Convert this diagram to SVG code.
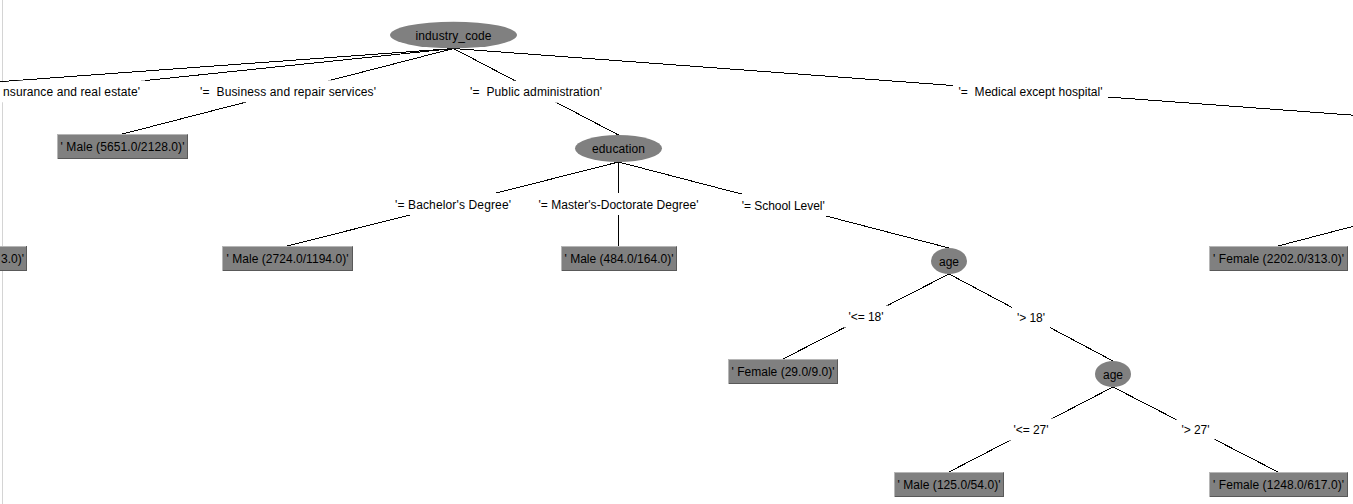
<svg xmlns="http://www.w3.org/2000/svg" width="1353" height="504" viewBox="0 0 1353 504">
<style>
text{font-family:"Liberation Sans",Arial,sans-serif;font-size:12px;fill:#000;text-anchor:middle}
.edge{stroke:#000;stroke-width:1;fill:none;shape-rendering:crispEdges}
.lblbg{fill:#fff;stroke:none}
.inner{fill:#808080}
.leaf{fill:#808080}
.hi{stroke:#b6b6b6;stroke-width:1;fill:none;shape-rendering:crispEdges}
.lo{stroke:#595959;stroke-width:1;fill:none;shape-rendering:crispEdges}
</style>
<rect x="0" y="0" width="1353" height="504" fill="#fff"/>
<line x1="2.5" y1="0" x2="2.5" y2="504" stroke="#d4d4d4"/>
<g id="connectors">
<line class="edge" x1="453.5" y1="48.5" x2="-715" y2="134"/>
<line class="edge" x1="453.5" y1="48.5" x2="-369" y2="134"/>
<line class="edge" x1="453.5" y1="48.5" x2="122.5" y2="134"/>
<line class="edge" x1="453.5" y1="48.5" x2="618.5" y2="135"/>
<line class="edge" x1="453.5" y1="48.5" x2="1607" y2="134"/>
<line class="edge" x1="1607" y1="160" x2="1278" y2="246"/>
<line class="edge" x1="618.5" y1="162" x2="287.5" y2="246"/>
<line class="edge" x1="618.5" y1="162" x2="618.5" y2="246"/>
<line class="edge" x1="618.5" y1="162" x2="949" y2="248"/>
<line class="edge" x1="949" y1="274" x2="783" y2="359"/>
<line class="edge" x1="949" y1="274" x2="1113" y2="361"/>
<line class="edge" x1="1113" y1="387" x2="949" y2="472"/>
<line class="edge" x1="1113" y1="387" x2="1278" y2="472"/>
</g>
<g id="edge-labels">
<g id="lbl-insurance">
<polygon class="lblbg" points="-70,87 0,82.6 25,80.3 145,80.3 145,102.3 -70,102.3"/>
<text x="3" y="95.75" style="text-anchor:start" textLength="137" lengthAdjust="spacing">nsurance and real estate'</text>
</g>
<g id="lbl-business">
<rect class="lblbg" x="195.5" y="80.25" width="185" height="22"/>
<text x="288" y="95.75" xml:space="preserve" textLength="176" lengthAdjust="spacing">'=  Business and repair services'</text>
</g>
<g id="lbl-public">
<rect class="lblbg" x="465" y="80.75" width="142" height="22"/>
<text x="536" y="96.25" xml:space="preserve" textLength="132" lengthAdjust="spacing">'=  Public administration'</text>
</g>
<g id="lbl-medical">
<rect class="lblbg" x="953" y="80.25" width="155" height="22"/>
<text x="1030.5" y="95.75" xml:space="preserve" textLength="144" lengthAdjust="spacing">'=  Medical except hospital'</text>
</g>
<g id="lbl-bachelor">
<rect class="lblbg" x="390.5" y="193" width="125" height="22"/>
<text x="453" y="208.5" textLength="116" lengthAdjust="spacing">'= Bachelor's Degree'</text>
</g>
<g id="lbl-masters">
<rect class="lblbg" x="533.5" y="193" width="170" height="22"/>
<text x="618.5" y="208.5" textLength="160" lengthAdjust="spacing">'= Master's-Doctorate Degree'</text>
</g>
<g id="lbl-school">
<rect class="lblbg" x="736.75" y="194" width="94" height="22"/>
<text x="783.25" y="209.5" textLength="83" lengthAdjust="spacing">'= School Level'</text>
</g>
<g id="lbl-le18">
<rect class="lblbg" x="843.5" y="305.5" width="45" height="22"/>
<text x="866" y="321" textLength="35" lengthAdjust="spacing">'&lt;= 18'</text>
</g>
<g id="lbl-gt18">
<rect class="lblbg" x="1012" y="306.5" width="38" height="22"/>
<text x="1031" y="322" textLength="28" lengthAdjust="spacing">'&gt; 18'</text>
</g>
<g id="lbl-le27">
<rect class="lblbg" x="1008.5" y="418.5" width="45" height="22"/>
<text x="1031" y="434" textLength="35" lengthAdjust="spacing">'&lt;= 27'</text>
</g>
<g id="lbl-gt27">
<rect class="lblbg" x="1176.5" y="418.5" width="38" height="22"/>
<text x="1195.5" y="434" textLength="28" lengthAdjust="spacing">'&gt; 27'</text>
</g>
</g>
<g id="node-industry_code">
<ellipse class="inner" cx="453.5" cy="35" rx="63.5" ry="13.3"/>
<text x="453.5" y="39.5" textLength="76" lengthAdjust="spacing">industry_code</text>
</g>
<g id="node-education">
<ellipse class="inner" cx="618.5" cy="148.5" rx="43.5" ry="13.5"/>
<text x="618.5" y="153" textLength="53" lengthAdjust="spacing">education</text>
</g>
<g id="node-age1">
<ellipse class="inner" cx="949" cy="261" rx="18" ry="13"/>
<text x="949" y="265.5">age</text>
</g>
<g id="node-age2">
<ellipse class="inner" cx="1113" cy="374" rx="18" ry="13"/>
<text x="1113" y="378.5">age</text>
</g>
<g id="leaf-left-partial">
<rect class="leaf" x="-104" y="246" width="131" height="25"/>
<path class="lo" d="M-104,270.5 H26.5 V246"/>
<path class="hi" d="M-104,246.5 H26"/>
<text x="24" y="262.5" style="text-anchor:end">3.0)'</text>
</g>
<g id="leaf-male-5651">
<rect class="leaf" x="57" y="134" width="131" height="25"/>
<path class="hi" d="M57.5,158.5 V134.5 H187"/>
<path class="lo" d="M57.5,158.5 H187.5 V134.5"/>
<text x="122.5" y="150.5" xml:space="preserve" textLength="124" lengthAdjust="spacing">' Male (5651.0/2128.0)'</text>
</g>
<g id="leaf-male-2724">
<rect class="leaf" x="222" y="246" width="131" height="25"/>
<path class="hi" d="M222.5,270.5 V246.5 H352"/>
<path class="lo" d="M222.5,270.5 H352.5 V246.5"/>
<text x="287.5" y="262.5" textLength="122" lengthAdjust="spacing">' Male (2724.0/1194.0)'</text>
</g>
<g id="leaf-male-484">
<rect class="leaf" x="561" y="246" width="116" height="25"/>
<path class="hi" d="M561.5,270.5 V246.5 H676"/>
<path class="lo" d="M561.5,270.5 H676.5 V246.5"/>
<text x="619" y="262.5" textLength="109" lengthAdjust="spacing">' Male (484.0/164.0)'</text>
</g>
<g id="leaf-female-2202">
<rect class="leaf" x="1209" y="246" width="139" height="25"/>
<path class="hi" d="M1209.5,270.5 V246.5 H1347"/>
<path class="lo" d="M1209.5,270.5 H1347.5 V246.5"/>
<text x="1278.5" y="262.5" textLength="131" lengthAdjust="spacing">' Female (2202.0/313.0)'</text>
</g>
<g id="leaf-female-29">
<rect class="leaf" x="728" y="359" width="110" height="25"/>
<path class="hi" d="M728.5,383.5 V359.5 H837"/>
<path class="lo" d="M728.5,383.5 H837.5 V359.5"/>
<text x="783" y="375.5" textLength="103" lengthAdjust="spacing">' Female (29.0/9.0)'</text>
</g>
<g id="leaf-male-125">
<rect class="leaf" x="894" y="472" width="110" height="25"/>
<path class="hi" d="M894.5,496.5 V472.5 H1003"/>
<path class="lo" d="M894.5,496.5 H1003.5 V472.5"/>
<text x="949" y="488.5" textLength="103" lengthAdjust="spacing">' Male (125.0/54.0)'</text>
</g>
<g id="leaf-female-1248">
<rect class="leaf" x="1209" y="472" width="139" height="25"/>
<path class="hi" d="M1209.5,496.5 V472.5 H1347"/>
<path class="lo" d="M1209.5,496.5 H1347.5 V472.5"/>
<text x="1278.5" y="488.5" textLength="131" lengthAdjust="spacing">' Female (1248.0/617.0)'</text>
</g>
</svg>
